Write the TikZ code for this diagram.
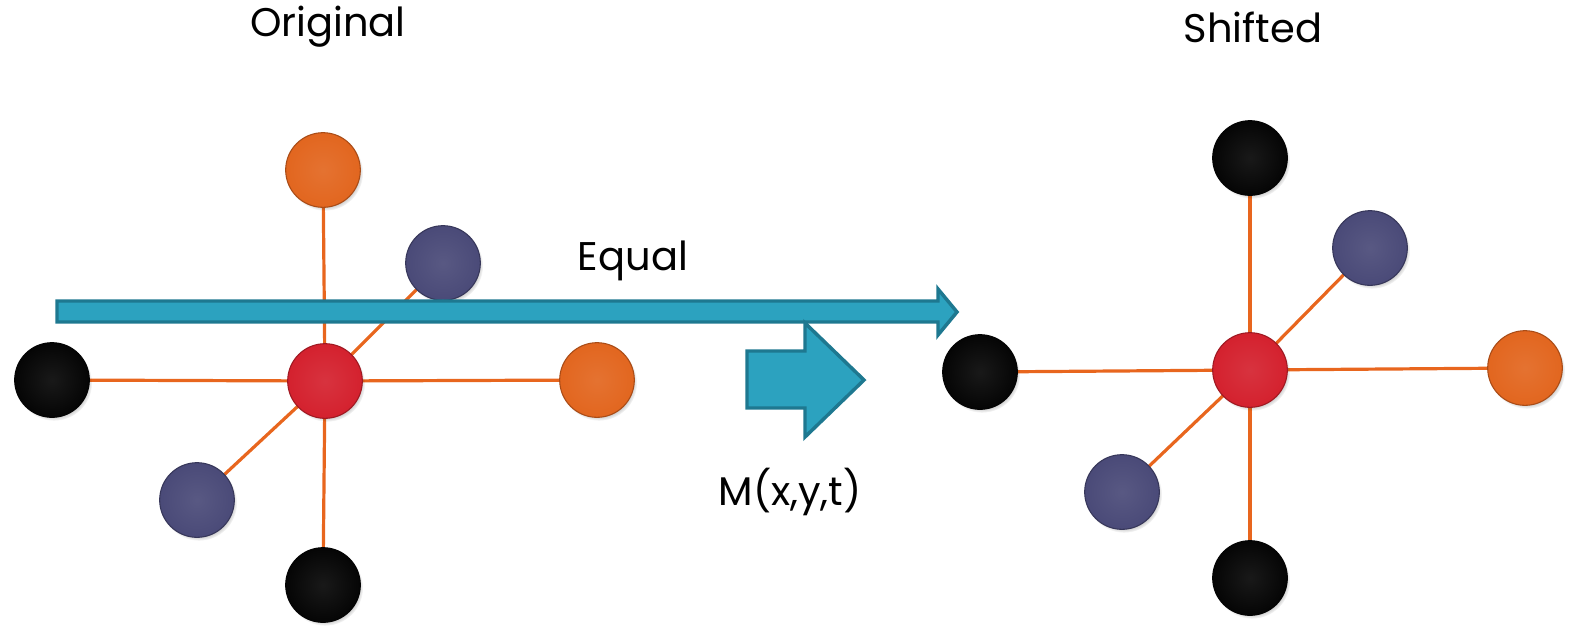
\documentclass[tikz,border=0pt]{standalone}
\usepackage{fontspec}
\setmainfont{Poppins}
\usetikzlibrary{shadows}
\definecolor{borange}{HTML}{E2661F}
\definecolor{bblue}{HTML}{4A4A78}
\definecolor{bred}{HTML}{D4212E}
\definecolor{bblack}{HTML}{050505}
\definecolor{linec}{HTML}{E8661E}
\definecolor{arrfill}{HTML}{2CA2BF}
\definecolor{arrdraw}{HTML}{1E7890}
\pgfdeclarelayer{bg}\pgfsetlayers{bg,main}
\tikzset{
  ball/.style={circle, minimum size=56pt, inner sep=0pt, draw=#1!75!black, line width=0.8pt,
    shading=radial, inner color=#1!92!white, outer color=#1,
    circular drop shadow={shadow xshift=1.5pt, shadow yshift=-2pt, fill=black, opacity=0.25, shadow scale=1.02}},
  edge/.style={draw=linec, line width=2.4pt},
  blockarrow/.style={fill=arrfill, draw=arrdraw, line width=2.6pt, line join=miter},
  lbl/.style={font=\fontsize{30}{36}\selectfont, text=black}
}
\begin{document}
\begin{tikzpicture}[x=0.75pt,y=-0.75pt]
\useasboundingbox (0,0) rectangle (1571,637);
% left graph nodes
\node[ball=bred]   (lc)  at (325,381) {};
\node[ball=borange](lt)  at (323,170) {};
\node[ball=bblue]  (ltr) at (443,263) {};
\node[ball=bblack] (ll)  at (52,380) {};
\node[ball=borange](lr)  at (597,380) {};
\node[ball=bblue]  (lbl) at (197,500) {};
\node[ball=bblack] (lb)  at (323,585) {};
% right graph nodes
\node[ball=bred]   (rc)  at (1250,370) {};
\node[ball=bblack] (rt)  at (1250,158) {};
\node[ball=bblue]  (rtr) at (1370,248) {};
\node[ball=bblack] (rl)  at (980,372) {};
\node[ball=borange](rr)  at (1525,368) {};
\node[ball=bblue]  (rbl) at (1122,492) {};
\node[ball=bblack] (rb)  at (1250,578) {};
% edges behind the balls
\begin{pgfonlayer}{bg}
\foreach \n in {lt,ltr,ll,lr,lbl,lb} \path[edge] (lc.center) -- (\n.center);
\foreach \n in {rt,rtr,rl,rr,rbl,rb} \path[edge] (rc.center) -- (\n.center);
\end{pgfonlayer}
% long arrow
\draw[blockarrow] (57,301) -- (938,301) -- (938,289) -- (957,312) -- (938,335) -- (938,322) -- (57,322) -- cycle;
% block arrow
\draw[blockarrow] (747,351) -- (805,351) -- (805,323) -- (864,380) -- (805,437) -- (805,408) -- (747,408) -- cycle;
% labels
\node[lbl] (t1) at (328,27) {Original};
\node[lbl] (t2) at (1253,27) {Shifted};
\node[lbl] (t3) at (633,261) {Equal};
\node[lbl] (t4) at (790,492) {M(x,y,t)};
\end{tikzpicture}
\end{document}
